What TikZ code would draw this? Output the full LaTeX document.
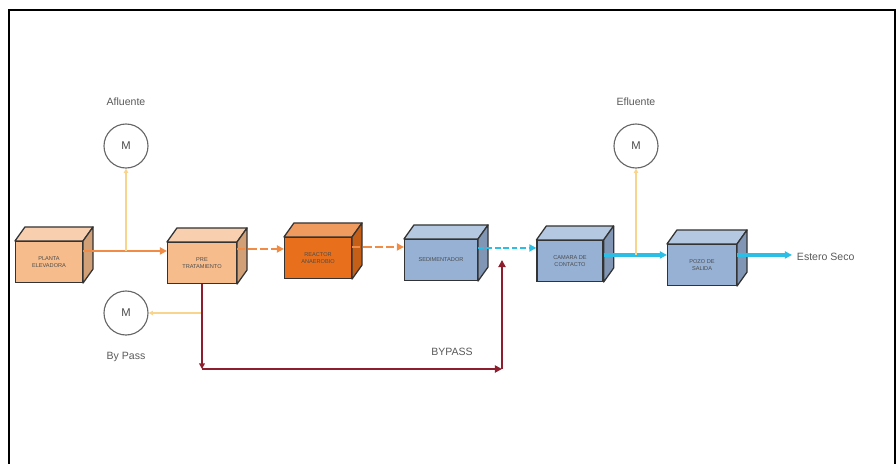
\documentclass[tikz,border=0pt]{standalone}
\usepackage{fontspec}
\setmainfont{Liberation Sans}
\usetikzlibrary{positioning, calc, arrows.meta}

\definecolor{naranjaclaro}{RGB}{246,188,140}
\definecolor{naranjaosc}{RGB}{232,112,28}
\definecolor{azulcaja}{RGB}{150,177,212}
\definecolor{lineanar}{RGB}{240,140,70}
\definecolor{celeste}{RGB}{45,190,230}
\definecolor{amarillo}{RGB}{248,212,140}
\definecolor{guinda}{RGB}{140,30,45}

\begin{document}
\begin{tikzpicture}[x=0.025cm, y=-0.025cm,
    caja/.style={draw=black!80, line width=0.9pt, minimum height=1.02cm, inner sep=1pt,
                 align=center, font=\fontsize{4}{4.8}\selectfont, text=black!70},
    medidor/.style={draw=black!60, line width=0.8pt, fill=white, circle, minimum size=1.1cm,
                    font=\fontsize{8}{9}\selectfont, text=black!70},
    etiqueta/.style={font=\fontsize{7.5}{9}\selectfont, text=black!65},
    flujo/.style={-{Triangle[length=5pt,width=5pt]}, line width=2pt},
    ramal/.style={-{Triangle[length=3pt,width=3pt]}, amarillo, line width=0.9pt}]
    \useasboundingbox (0,0) rectangle (896,463);
    % marco
    \draw[line width=1.4pt] (9,475) -- (9,10) -- (895,10) -- (895,475);

    % unidades del proceso
    \node[caja, fill=naranjaclaro, minimum width=1.67cm] (pe) at (49,262) {PLANTA\\ELEVADORA};
    \node[caja, fill=naranjaclaro, minimum width=1.72cm] (pt) at (202,263) {PRE\\TRATAMIENTO};
    \node[caja, fill=naranjaosc, minimum width=1.67cm] (ra) at (318,258) {REACTOR\\ANAEROBIO};
    \node[caja, fill=azulcaja, minimum width=1.82cm] (se) at (441,260) {SEDIMENTADOR};
    \node[caja, fill=azulcaja, minimum width=1.65cm] (cc) at (570,261) {CAMARA DE\\CONTACTO};
    \node[caja, fill=azulcaja, minimum width=1.72cm] (ps) at (702,265) {POZO DE\\SALIDA};

    % caras de las cajas
    \foreach \n/\c in {pe/naranjaclaro, pt/naranjaclaro, ra/naranjaosc, se/azulcaja, cc/azulcaja, ps/azulcaja}{
        \filldraw[fill=\c!70!white, draw=black!80, line width=0.9pt, line join=round]
            (\n.north west) -- ++(10,-14) -- ($(\n.north east)+(10,-14)$) -- (\n.north east) -- cycle;
        \filldraw[fill=\c!85!black, draw=black!80, line width=0.9pt, line join=round]
            (\n.north east) -- ++(10,-14) -- ($(\n.south east)+(10,-14)$) -- (\n.south east) -- cycle;
    }

    % medidores
    \node[medidor] (af) at (126,146) {M};
    \node[etiqueta, above=9pt of af] (laf) {Afluente};
    \node[medidor] (ef) at (636,146) {M};
    \node[etiqueta, above=9pt of ef] (lef) {Efluente};
    \node[medidor] (bp) at (126,313) {M};
    \node[etiqueta, below=8pt of bp] (lbp) {By Pass};
    \node[etiqueta, anchor=west] (es) at (792,257) {Estero Seco};
    \node[etiqueta] (lby) at (452,352) {BYPASS};

    % puntos de paso
    \coordinate (f1) at ($(pe.north east)+(0,10)$);
    \coordinate (f2) at ($(pt.north east)+(0,7)$);
    \coordinate (f3) at ($(ra.north east)+(0,10)$);
    \coordinate (f4) at ($(se.north east)+(0,9)$);
    \coordinate (f5) at ($(cc.north east)+(0,15)$);
    \coordinate (f6) at ($(ps.north east)+(0,11)$);
    \coordinate (esq) at (502,369);

    % lineas de flujo
    \draw[flujo, lineanar] (f1) -- (f1 -| pt.west);
    \draw[flujo, lineanar, line width=1.6pt, dash pattern=on 6pt off 2pt] (f2) -- (f2 -| ra.west);
    \draw[flujo, lineanar, line width=1.6pt, dash pattern=on 6pt off 2pt] (f3) -- (f3 -| se.west);
    \draw[flujo, celeste, line width=1.6pt, dash pattern=on 4pt off 2pt] (f4) -- (f4 -| cc.west);
    \draw[flujo, celeste, line width=2.6pt] (f5) -- (f5 -| ps.west);
    \draw[flujo, celeste, line width=2.6pt] (f6) -- (f6 -| es.west);

    % ramales a los medidores
    \draw[ramal] (af |- f1) -- (af.south);
    \draw[ramal] (ef |- f5) -- (ef.south);
    \draw[ramal] (bp.east -| pt.south) -- (bp.east);

    % bypass
    \draw[guinda, line width=1.5pt, -{Triangle[length=4pt,width=4pt]}] (pt.south) -- (pt.south |- esq);
    \draw[guinda, line width=1.8pt, -{Triangle[length=5pt,width=5pt]}] (pt.south |- esq) -- (esq);
    \draw[guinda, line width=1.5pt, -{Triangle[length=5pt,width=5pt]}] (esq) -- ($(esq |- f4)+(0,12)$);
\end{tikzpicture}
\end{document}
